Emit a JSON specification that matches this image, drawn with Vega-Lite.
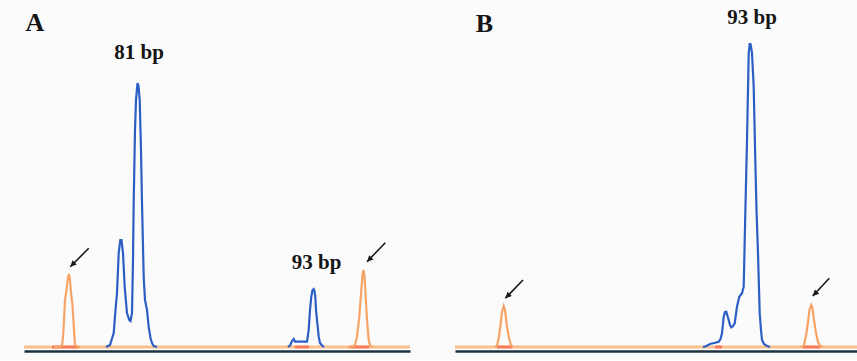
{
  "$schema": "https://vega.github.io/schema/vega-lite/v6.json",
  "background": "#fbfbfb",
  "padding": {"left": 22, "top": 0, "right": 0, "bottom": 9},
  "spacing": 41,
  "config": {
    "view": {"stroke": null},
    "axisX": {"domain": true, "domainColor": "#1d3340", "domainWidth": 2.6, "labels": false, "ticks": false, "grid": false, "title": null}
  },
  "hconcat": [
    {
      "width": 386,
      "height": 351,
      "layer": [
        {
          "data": {"values": [{"y": 0}]},
          "mark": {"type": "rule", "color": "#f8c08c", "strokeWidth": 3},
          "encoding": {"y": {"field": "y", "type": "quantitative", "scale": {"domain": [-4, 347], "nice": false, "zero": false}, "axis": null}}
        },
        {
          "data": {"values": [{"x": 28, "x2": 55, "y": 0}, {"x": 271, "x2": 285, "y": 0}, {"x": 326, "x2": 345, "y": 0}]},
          "mark": {"type": "rule", "color": "#f27c5c", "strokeWidth": 3},
          "encoding": {"x": {"field": "x", "type": "quantitative"}, "x2": {"field": "x2"}, "y": {"field": "y", "type": "quantitative"}}
        },
        {
          "data": {"values": [
            {"peak": "L1", "kind": "ladder", "x": 30, "y": 0}, {"peak": "L1", "kind": "ladder", "x": 36, "y": 0}, {"peak": "L1", "kind": "ladder", "x": 38, "y": 2}, {"peak": "L1", "kind": "ladder", "x": 39, "y": 9}, {"peak": "L1", "kind": "ladder", "x": 40, "y": 27}, {"peak": "L1", "kind": "ladder", "x": 41, "y": 47}, {"peak": "L1", "kind": "ladder", "x": 42.5, "y": 57}, {"peak": "L1", "kind": "ladder", "x": 44, "y": 70}, {"peak": "L1", "kind": "ladder", "x": 45, "y": 73}, {"peak": "L1", "kind": "ladder", "x": 46, "y": 67}, {"peak": "L1", "kind": "ladder", "x": 47, "y": 54}, {"peak": "L1", "kind": "ladder", "x": 48.5, "y": 42}, {"peak": "L1", "kind": "ladder", "x": 50, "y": 17}, {"peak": "L1", "kind": "ladder", "x": 51, "y": 2}, {"peak": "L1", "kind": "ladder", "x": 53, "y": 0}, {"peak": "L1", "kind": "ladder", "x": 56, "y": 0},
            {"peak": "S81", "kind": "sample", "x": 82, "y": 0}, {"peak": "S81", "kind": "sample", "x": 86, "y": 2}, {"peak": "S81", "kind": "sample", "x": 89.7, "y": 14}, {"peak": "S81", "kind": "sample", "x": 91.5, "y": 37}, {"peak": "S81", "kind": "sample", "x": 93, "y": 54}, {"peak": "S81", "kind": "sample", "x": 94.7, "y": 94}, {"peak": "S81", "kind": "sample", "x": 96.3, "y": 107}, {"peak": "S81", "kind": "sample", "x": 97.5, "y": 107}, {"peak": "S81", "kind": "sample", "x": 99, "y": 94}, {"peak": "S81", "kind": "sample", "x": 100.7, "y": 60}, {"peak": "S81", "kind": "sample", "x": 103, "y": 34}, {"peak": "S81", "kind": "sample", "x": 105.3, "y": 27}, {"peak": "S81", "kind": "sample", "x": 106.5, "y": 26}, {"peak": "S81", "kind": "sample", "x": 108, "y": 34}, {"peak": "S81", "kind": "sample", "x": 109, "y": 87}, {"peak": "S81", "kind": "sample", "x": 109.7, "y": 144}, {"peak": "S81", "kind": "sample", "x": 111, "y": 217}, {"peak": "S81", "kind": "sample", "x": 112, "y": 247}, {"peak": "S81", "kind": "sample", "x": 113.5, "y": 264}, {"peak": "S81", "kind": "sample", "x": 114.5, "y": 261}, {"peak": "S81", "kind": "sample", "x": 115.7, "y": 247}, {"peak": "S81", "kind": "sample", "x": 117, "y": 197}, {"peak": "S81", "kind": "sample", "x": 118, "y": 144}, {"peak": "S81", "kind": "sample", "x": 119.7, "y": 70}, {"peak": "S81", "kind": "sample", "x": 121, "y": 47}, {"peak": "S81", "kind": "sample", "x": 123, "y": 37}, {"peak": "S81", "kind": "sample", "x": 124.7, "y": 20}, {"peak": "S81", "kind": "sample", "x": 126.5, "y": 9}, {"peak": "S81", "kind": "sample", "x": 128, "y": 4}, {"peak": "S81", "kind": "sample", "x": 129.7, "y": 1}, {"peak": "S81", "kind": "sample", "x": 133, "y": 0},
            {"peak": "S93", "kind": "sample", "x": 264, "y": 0}, {"peak": "S93", "kind": "sample", "x": 266.3, "y": 2}, {"peak": "S93", "kind": "sample", "x": 268, "y": 6}, {"peak": "S93", "kind": "sample", "x": 269.7, "y": 8}, {"peak": "S93", "kind": "sample", "x": 271, "y": 5.3}, {"peak": "S93", "kind": "sample", "x": 278, "y": 5.3}, {"peak": "S93", "kind": "sample", "x": 283, "y": 5.3}, {"peak": "S93", "kind": "sample", "x": 284.7, "y": 17}, {"peak": "S93", "kind": "sample", "x": 286, "y": 37}, {"peak": "S93", "kind": "sample", "x": 287.3, "y": 50.3}, {"peak": "S93", "kind": "sample", "x": 288.5, "y": 57}, {"peak": "S93", "kind": "sample", "x": 289.7, "y": 58}, {"peak": "S93", "kind": "sample", "x": 290.5, "y": 56}, {"peak": "S93", "kind": "sample", "x": 291.3, "y": 50.3}, {"peak": "S93", "kind": "sample", "x": 292, "y": 37}, {"peak": "S93", "kind": "sample", "x": 293, "y": 27}, {"peak": "S93", "kind": "sample", "x": 294.7, "y": 10.3}, {"peak": "S93", "kind": "sample", "x": 296, "y": 4}, {"peak": "S93", "kind": "sample", "x": 298, "y": 1.5}, {"peak": "S93", "kind": "sample", "x": 300, "y": 0},
            {"peak": "L2", "kind": "ladder", "x": 324, "y": 0}, {"peak": "L2", "kind": "ladder", "x": 328, "y": 0}, {"peak": "L2", "kind": "ladder", "x": 331, "y": 2}, {"peak": "L2", "kind": "ladder", "x": 333, "y": 10.3}, {"peak": "L2", "kind": "ladder", "x": 335.3, "y": 30.3}, {"peak": "L2", "kind": "ladder", "x": 337.3, "y": 57}, {"peak": "L2", "kind": "ladder", "x": 338.5, "y": 72}, {"peak": "L2", "kind": "ladder", "x": 339.5, "y": 77}, {"peak": "L2", "kind": "ladder", "x": 340.5, "y": 71}, {"peak": "L2", "kind": "ladder", "x": 341.3, "y": 57}, {"peak": "L2", "kind": "ladder", "x": 343, "y": 27}, {"peak": "L2", "kind": "ladder", "x": 344.7, "y": 7}, {"peak": "L2", "kind": "ladder", "x": 346.3, "y": 1}, {"peak": "L2", "kind": "ladder", "x": 349, "y": 0}
          ]},
          "mark": {"type": "line", "strokeWidth": 2.2, "clip": true},
          "encoding": {
            "x": {"field": "x", "type": "quantitative", "scale": {"domain": [0, 386], "nice": false, "zero": false}},
            "y": {"field": "y", "type": "quantitative"},
            "detail": {"field": "peak"},
            "color": {"field": "kind", "type": "nominal", "scale": {"domain": ["sample", "ladder"], "range": ["#2c5fc6", "#f5a466"]}, "legend": null},
            "order": {"field": "x", "type": "quantitative"}
          }
        },
        {
          "data": {"values": [{"x": 64.7, "y": 98.7, "x2": 46.3, "y2": 80.3}, {"x": 361.3, "y": 104.3, "x2": 343, "y2": 85.3}]},
          "layer": [
            {"mark": {"type": "rule", "color": "#1a1a1a", "strokeWidth": 1.6}, "encoding": {"x": {"field": "x", "type": "quantitative"}, "y": {"field": "y", "type": "quantitative"}, "x2": {"field": "x2"}, "y2": {"field": "y2"}}},
            {"mark": {"type": "point", "shape": "M0,0L-0.65,1.3L0.65,1.3Z", "filled": true, "color": "#1a1a1a", "opacity": 1, "size": 90, "angle": 225}, "encoding": {"x": {"field": "x2", "type": "quantitative"}, "y": {"field": "y2", "type": "quantitative"}}}
          ]
        },
        {
          "data": {"values": [{"x": 11, "y": 316, "label": "A"}]},
          "mark": {"type": "text", "font": "Liberation Serif", "fontWeight": "bold", "fontSize": 26, "color": "#151515", "align": "center", "baseline": "alphabetic"},
          "encoding": {"x": {"field": "x", "type": "quantitative"}, "y": {"field": "y", "type": "quantitative"}, "text": {"field": "label"}}
        },
        {
          "data": {"values": [{"x": 115, "y": 288, "label": "81 bp"}, {"x": 292.5, "y": 78, "label": "93 bp"}]},
          "mark": {"type": "text", "font": "Liberation Serif", "fontWeight": "bold", "fontSize": 21, "color": "#151515", "align": "center", "baseline": "alphabetic"},
          "encoding": {"x": {"field": "x", "type": "quantitative"}, "y": {"field": "y", "type": "quantitative"}, "text": {"field": "label"}}
        }
      ]
    },
    {
      "width": 404,
      "height": 351,
      "layer": [
        {
          "data": {"values": [{"y": 0}]},
          "mark": {"type": "rule", "color": "#f8c08c", "strokeWidth": 3},
          "encoding": {"y": {"field": "y", "type": "quantitative", "scale": {"domain": [-4, 347], "nice": false, "zero": false}, "axis": null}}
        },
        {
          "data": {"values": [{"x": 42, "x2": 57, "y": 0}, {"x": 260, "x2": 267, "y": 0}, {"x": 348, "x2": 365, "y": 0}]},
          "mark": {"type": "rule", "color": "#f27c5c", "strokeWidth": 3},
          "encoding": {"x": {"field": "x", "type": "quantitative"}, "x2": {"field": "x2"}, "y": {"field": "y", "type": "quantitative"}}
        },
        {
          "data": {"values": [
            {"peak": "L1", "kind": "ladder", "x": 40, "y": 0}, {"peak": "L1", "kind": "ladder", "x": 42, "y": 1}, {"peak": "L1", "kind": "ladder", "x": 44, "y": 11}, {"peak": "L1", "kind": "ladder", "x": 45.3, "y": 20.3}, {"peak": "L1", "kind": "ladder", "x": 47, "y": 35}, {"peak": "L1", "kind": "ladder", "x": 48.7, "y": 41}, {"peak": "L1", "kind": "ladder", "x": 50, "y": 37}, {"peak": "L1", "kind": "ladder", "x": 52, "y": 20.3}, {"peak": "L1", "kind": "ladder", "x": 54, "y": 9}, {"peak": "L1", "kind": "ladder", "x": 56, "y": 2}, {"peak": "L1", "kind": "ladder", "x": 58, "y": 0},
            {"peak": "S93", "kind": "sample", "x": 248, "y": 0}, {"peak": "S93", "kind": "sample", "x": 250.3, "y": 0.5}, {"peak": "S93", "kind": "sample", "x": 255, "y": 3}, {"peak": "S93", "kind": "sample", "x": 260.3, "y": 4.3}, {"peak": "S93", "kind": "sample", "x": 263.7, "y": 5.3}, {"peak": "S93", "kind": "sample", "x": 265.5, "y": 8}, {"peak": "S93", "kind": "sample", "x": 267, "y": 13.7}, {"peak": "S93", "kind": "sample", "x": 268.7, "y": 30.3}, {"peak": "S93", "kind": "sample", "x": 270, "y": 35}, {"peak": "S93", "kind": "sample", "x": 271.3, "y": 35.3}, {"peak": "S93", "kind": "sample", "x": 272.5, "y": 31}, {"peak": "S93", "kind": "sample", "x": 273.7, "y": 27}, {"peak": "S93", "kind": "sample", "x": 275, "y": 22}, {"peak": "S93", "kind": "sample", "x": 276.3, "y": 19.7}, {"peak": "S93", "kind": "sample", "x": 278, "y": 21}, {"peak": "S93", "kind": "sample", "x": 279.7, "y": 23.7}, {"peak": "S93", "kind": "sample", "x": 282, "y": 40.3}, {"peak": "S93", "kind": "sample", "x": 284.3, "y": 50.3}, {"peak": "S93", "kind": "sample", "x": 287, "y": 53.7}, {"peak": "S93", "kind": "sample", "x": 288.7, "y": 60.3}, {"peak": "S93", "kind": "sample", "x": 289.5, "y": 97}, {"peak": "S93", "kind": "sample", "x": 290.3, "y": 133.7}, {"peak": "S93", "kind": "sample", "x": 291.2, "y": 172}, {"peak": "S93", "kind": "sample", "x": 292, "y": 207}, {"peak": "S93", "kind": "sample", "x": 293, "y": 257}, {"peak": "S93", "kind": "sample", "x": 293.7, "y": 293.7}, {"peak": "S93", "kind": "sample", "x": 294.7, "y": 303}, {"peak": "S93", "kind": "sample", "x": 295.5, "y": 303}, {"peak": "S93", "kind": "sample", "x": 296.2, "y": 299}, {"peak": "S93", "kind": "sample", "x": 297, "y": 293.7}, {"peak": "S93", "kind": "sample", "x": 298.7, "y": 260.3}, {"peak": "S93", "kind": "sample", "x": 300.3, "y": 187}, {"peak": "S93", "kind": "sample", "x": 301.5, "y": 137}, {"peak": "S93", "kind": "sample", "x": 303, "y": 93.7}, {"peak": "S93", "kind": "sample", "x": 304.7, "y": 33.7}, {"peak": "S93", "kind": "sample", "x": 306, "y": 17}, {"peak": "S93", "kind": "sample", "x": 307, "y": 7}, {"peak": "S93", "kind": "sample", "x": 309, "y": 3}, {"peak": "S93", "kind": "sample", "x": 312, "y": 1}, {"peak": "S93", "kind": "sample", "x": 315, "y": 0},
            {"peak": "L2", "kind": "ladder", "x": 346, "y": 0}, {"peak": "L2", "kind": "ladder", "x": 348.7, "y": 1}, {"peak": "L2", "kind": "ladder", "x": 351, "y": 11}, {"peak": "L2", "kind": "ladder", "x": 353, "y": 25}, {"peak": "L2", "kind": "ladder", "x": 354.5, "y": 37}, {"peak": "L2", "kind": "ladder", "x": 356.3, "y": 42}, {"peak": "L2", "kind": "ladder", "x": 357.5, "y": 39}, {"peak": "L2", "kind": "ladder", "x": 359, "y": 27}, {"peak": "L2", "kind": "ladder", "x": 361, "y": 14}, {"peak": "L2", "kind": "ladder", "x": 363, "y": 5}, {"peak": "L2", "kind": "ladder", "x": 365.3, "y": 1}, {"peak": "L2", "kind": "ladder", "x": 368, "y": 0}
          ]},
          "mark": {"type": "line", "strokeWidth": 2.2, "clip": true},
          "encoding": {
            "x": {"field": "x", "type": "quantitative", "scale": {"domain": [0, 404], "nice": false, "zero": false}},
            "y": {"field": "y", "type": "quantitative"},
            "detail": {"field": "peak"},
            "color": {"field": "kind", "type": "nominal", "scale": {"domain": ["sample", "ladder"], "range": ["#2c5fc6", "#f5a466"]}, "legend": null},
            "order": {"field": "x", "type": "quantitative"}
          }
        },
        {
          "data": {"values": [{"x": 68, "y": 67, "x2": 50.3, "y2": 48.7}, {"x": 374.3, "y": 68.7, "x2": 357.7, "y2": 51}]},
          "layer": [
            {"mark": {"type": "rule", "color": "#1a1a1a", "strokeWidth": 1.6}, "encoding": {"x": {"field": "x", "type": "quantitative"}, "y": {"field": "y", "type": "quantitative"}, "x2": {"field": "x2"}, "y2": {"field": "y2"}}},
            {"mark": {"type": "point", "shape": "M0,0L-0.65,1.3L0.65,1.3Z", "filled": true, "color": "#1a1a1a", "opacity": 1, "size": 90, "angle": 225}, "encoding": {"x": {"field": "x2", "type": "quantitative"}, "y": {"field": "y2", "type": "quantitative"}}}
          ]
        },
        {
          "data": {"values": [{"x": 29.5, "y": 315.5, "label": "B"}]},
          "mark": {"type": "text", "font": "Liberation Serif", "fontWeight": "bold", "fontSize": 26, "color": "#151515", "align": "center", "baseline": "alphabetic"},
          "encoding": {"x": {"field": "x", "type": "quantitative"}, "y": {"field": "y", "type": "quantitative"}, "text": {"field": "label"}}
        },
        {
          "data": {"values": [{"x": 297, "y": 323, "label": "93 bp"}]},
          "mark": {"type": "text", "font": "Liberation Serif", "fontWeight": "bold", "fontSize": 21, "color": "#151515", "align": "center", "baseline": "alphabetic"},
          "encoding": {"x": {"field": "x", "type": "quantitative"}, "y": {"field": "y", "type": "quantitative"}, "text": {"field": "label"}}
        }
      ]
    }
  ]
}
